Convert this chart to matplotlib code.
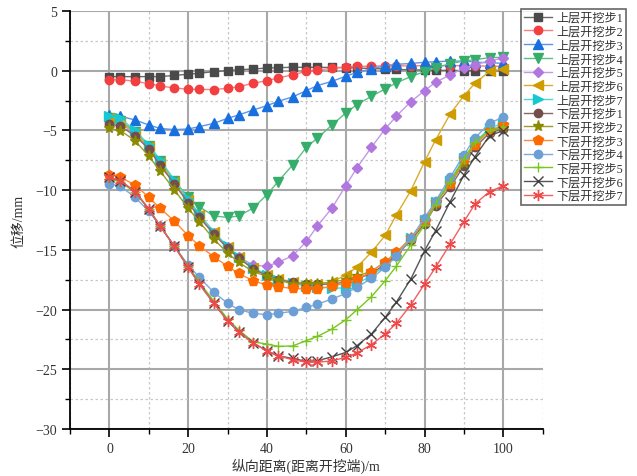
import numpy as np
import matplotlib
matplotlib.use("Agg")
from matplotlib import pyplot as plt
from matplotlib.ticker import MultipleLocator

plt.rcParams["font.family"] = ["Liberation Serif", "Noto Sans CJK SC"]
plt.rcParams["axes.unicode_minus"] = True

# distance along the tunnel (m)
dist = [0, 2.8, 6.5, 10, 12.8, 16.5, 20, 22.8, 26.5, 30, 32.8, 36.5, 40, 42.8, 46.5,
        50, 52.8, 56.5, 60, 62.8, 66.5, 70, 72.8, 76.5, 80, 82.8, 86.5, 90, 92.8, 96.5, 100]

# displacement (mm), upper bench excavation steps
up1 = [-0.5, -0.5, -0.5, -0.5, -0.5, -0.4, -0.3, -0.22, -0.08, 0.0,
       0.08, 0.14, 0.22, 0.25, 0.28, 0.28, 0.28, 0.27, 0.25, 0.22,
       0.18, 0.14, 0.1, 0.07, 0.05, 0.03, 0.02, 0.0, 0.0, 0.0, 0.0]
up2 = [-0.75, -0.75, -0.89, -1.09, -1.28, -1.45, -1.56, -1.57, -1.58, -1.48,
       -1.34, -1.06, -0.83, -0.62, -0.34, -0.06, 0.05, 0.2, 0.3, 0.35,
       0.38, 0.4, 0.4, 0.4, 0.42, 0.42, 0.42, 0.42, 0.4, 0.38, 0.36]
up3 = [-3.7, -3.82, -4.13, -4.55, -4.83, -4.94, -4.88, -4.69, -4.41, -3.99,
       -3.71, -3.29, -2.93, -2.57, -2.2, -1.67, -1.25, -0.89, -0.47, -0.14,
       0.14, 0.42, 0.53, 0.6, 0.7, 0.75, 0.8, 0.8, 0.72, 0.65, 0.62]
up4 = [-4.0, -4.2, -5.1, -6.3, -7.6, -9.2, -10.6, -11.39, -12.17, -12.28,
       -12.17, -11.5, -10.38, -9.29, -7.9, -6.42, -5.64, -4.55, -3.54, -2.85,
       -2.15, -1.53, -1.03, -0.5, -0.08, 0.23, 0.59, 0.81, 0.92, 1.09, 1.12]
up5 = [-4.2, -4.4, -5.3, -6.5, -7.8, -9.4, -10.9, -12.2, -13.6, -14.8,
       -15.6, -16.27, -16.38, -16.05, -15.5, -14.3, -13.0, -11.5, -9.63, -8.15,
       -6.42, -4.88, -3.82, -2.6, -1.67, -0.97, -0.36, 0.23, 0.48, 0.84, 1.04]
up6 = [-4.0, -4.3, -5.2, -6.4, -7.7, -9.3, -10.8, -12.1, -13.5, -14.8,
       -15.6, -16.5, -17.1, -17.4, -17.7, -17.85, -17.86, -17.7, -17.1, -16.47,
       -15.2, -13.8, -12.1, -10.05, -7.62, -5.8, -3.63, -2.09, -1.06, -0.05, 0.14]
up7 = [-3.8, -4.0, -5.0, -6.2, -7.45, -9.15, -10.75, -12.0, -13.5, -14.7,
       -15.6, -16.5, -17.1, -17.5, -17.8, -18.0, -18.1, -18.2, -18.2, -17.8,
       -17.2, -16.3, -15.4, -14.0, -12.5, -11.0, -9.2, -7.3, -6.0, -4.8, -4.4]

# displacement (mm), lower bench excavation steps
lo1 = [-4.46, -4.66, -5.44, -6.56, -7.9, -9.49, -11.08, -12.28, -13.68, -14.87,
       -15.69, -16.6, -17.17, -17.5, -17.72, -17.86, -17.9, -17.86, -17.7, -17.4,
       -17.0, -16.2, -15.5, -14.2, -12.84, -11.3, -9.77, -7.95, -6.42, -5.22, -4.88]
lo2 = [-4.83, -5.02, -5.86, -7.17, -8.37, -9.99, -11.53, -12.64, -14.1, -15.27,
       -16.05, -16.83, -17.22, -17.5, -17.86, -17.86, -17.86, -17.7, -17.5, -17.2,
       -16.8, -16.0, -15.3, -14.0, -12.7, -11.1, -9.5, -7.7, -6.2, -5.0, -4.8]
lo3 = [-8.71, -8.93, -9.57, -10.6, -11.5, -12.6, -13.82, -14.66, -15.58, -16.38,
       -16.97, -17.59, -17.95, -18.09, -18.23, -18.28, -18.25, -18.06, -17.78, -17.45,
       -16.83, -16.0, -15.21, -14.04, -12.56, -11.02, -9.49, -7.4, -6.22, -5.02, -4.55]
lo4 = [-9.49, -9.68, -10.6, -11.78, -12.98, -14.71, -16.27, -17.3, -18.56, -19.48,
       -20.0, -20.32, -20.43, -20.32, -20.15, -19.82, -19.54, -19.12, -18.65, -18.14,
       -17.39, -16.47, -15.55, -14.04, -12.34, -10.92, -8.93, -7.03, -5.64, -4.38, -3.9]
lo5 = [-9.07, -9.3, -10.2, -11.6, -13.0, -14.7, -16.4, -17.7, -19.3, -20.8,
       -21.7, -22.7, -22.89, -23.08, -23.05, -22.6, -22.25, -21.63, -20.85, -20.04,
       -18.93, -17.59, -16.38, -14.6, -12.92, -11.16, -9.3, -7.4, -6.0, -5.0, -4.7]
lo6 = [-8.93, -9.21, -10.13, -11.58, -12.98, -14.71, -16.47, -17.86, -19.48, -20.94,
       -21.86, -22.81, -23.45, -23.87, -24.09, -24.34, -24.29, -23.95, -23.59, -23.03,
       -22.05, -20.65, -19.4, -17.45, -15.08, -13.4, -10.97, -8.74, -7.2, -5.44, -5.02]
lo7 = [-8.93, -9.21, -10.13, -11.58, -12.98, -14.71, -16.47, -17.86, -19.48, -20.94,
       -21.86, -22.81, -23.45, -23.87, -24.2, -24.42, -24.42, -24.29, -24.0, -23.64,
       -22.94, -22.05, -21.16, -19.62, -17.86, -16.47, -14.51, -12.64, -11.16, -10.13, -9.63]

labels = ["上层开挖步1", "上层开挖步2", "上层开挖步3", "上层开挖步4", "上层开挖步5",
          "上层开挖步6", "上层开挖步7", "下层开挖步1", "下层开挖步2", "下层开挖步3",
          "下层开挖步4", "下层开挖步5", "下层开挖步6", "下层开挖步7"]
series = [up1, up2, up3, up4, up5, up6, up7, lo1, lo2, lo3, lo4, lo5, lo6, lo7]

# (marker, marker colour, line colour, marker size)
styles = [
    ("s", "#4a4a4a", "#6a6a6a", 5.5),
    ("o", "#f24040", "#f68080", 6),
    ("^", "#1a6fdf", "#5a96e8", 6.5),
    ("v", "#37ad6b", "#5cbf86", 6.5),
    ("D", "#b177de", "#c39ae6", 5),
    ("<", "#cf9c00", "#d8ac30", 6.5),
    (">", "#16c8d0", "#4ed6dc", 6.5),
    ("o", "#744d4d", "#8a6868", 6),
    ("*", "#8b8b00", "#9c9c2a", 8),
    ("p", "#ff6a00", "#ff8a3a", 7),
    ("o", "#6b9fd6", "#7eaadc", 6),
    ("+", "#7ac520", "#7ac520", 7),
    ("x", "#404040", "#555555", 6.5),
    ((6, 2, 0), "#f04848", "#f06060", 8),
]

fig = plt.figure(figsize=(6.37, 4.77), dpi=100)
ax = fig.add_axes([0.110, 0.0985, 0.742, 0.8765])

for vals, lab, (mk, mc, lc, ms) in zip(series, labels, styles):
    ax.plot(dist, vals, "-", color=lc, lw=1.0, marker=mk, ms=ms,
            markerfacecolor=mc, markeredgecolor=mc, mew=1.0, label=lab)

ax.set_xlim(-10, 110)
ax.set_ylim(-30, 5)
ax.xaxis.set_major_locator(MultipleLocator(20))
ax.xaxis.set_minor_locator(MultipleLocator(10))
ax.yaxis.set_major_locator(MultipleLocator(5))
ax.yaxis.set_minor_locator(MultipleLocator(2.5))

ax.grid(which="major", color="#a8a8a8", lw=1.5, ls="-")
ax.grid(which="minor", color="#c8c8c8", lw=0.9, ls=(0, (2, 2)))
ax.set_axisbelow(True)

for side in ("top", "right"):
    ax.spines[side].set_visible(False)
for side in ("left", "bottom"):
    ax.spines[side].set_linewidth(1.3)
ax.tick_params(which="major", direction="out", length=6, width=1.2, labelsize=10,
               colors="black", labelcolor="#333333")
ax.tick_params(which="minor", direction="out", length=3.5, width=1.0)

ax.set_xlabel("纵向距离(距离开挖端)/m", fontsize=10, color="#333333", labelpad=2)
ax.set_ylabel("位移/mm", fontsize=10, color="#333333", labelpad=7)

leg = ax.legend(loc="upper left", bbox_to_anchor=(521 / 637, 1 - 10 / 477),
                bbox_transform=fig.transFigure, fontsize=8.7, frameon=True,
                fancybox=False, borderpad=0.25, labelspacing=0.14,
                handlelength=2.3, handletextpad=0.35, borderaxespad=0)
leg.get_frame().set_edgecolor("#404040")
leg.get_frame().set_linewidth(1.2)
for t in leg.get_texts():
    t.set_color("#333333")

fig.savefig("out.png", dpi=100)
